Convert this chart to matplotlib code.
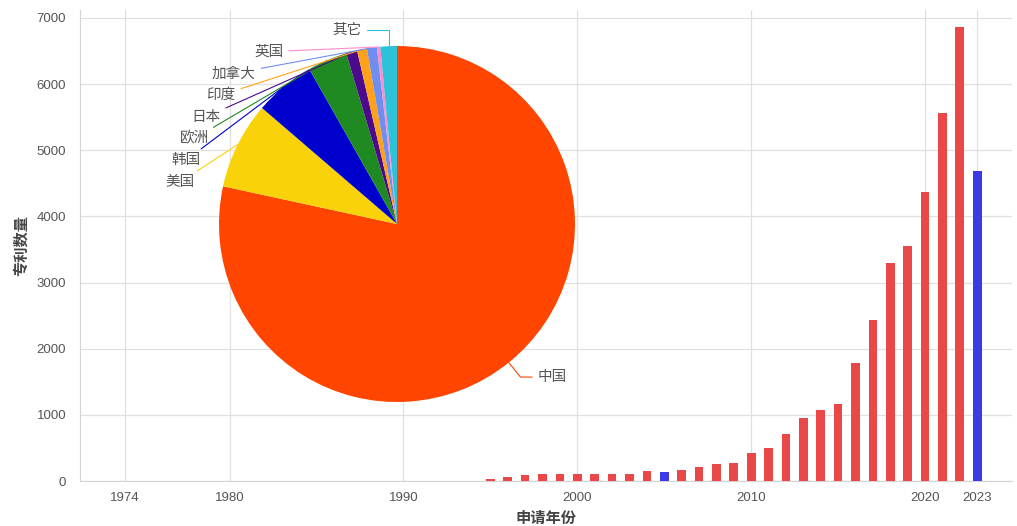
import numpy as np
import matplotlib.pyplot as plt

# bar data: patent filings per application year
years = list(range(1995, 2024))
counts = [30, 60, 90, 110, 110, 110, 110, 110, 110, 150,
          135, 170, 210, 250, 270, 430, 500, 710, 950, 1070,
          1160, 1790, 2440, 3300, 3560, 4370, 5560, 6860, 4690]
tick_years = [1974, 1980, 1990, 2000, 2010, 2020, 2023]
highlight_years = [2005, 2023]

# pie data: share by country/region (%)
countries = ['中国', '美国', '韩国', '欧洲', '日本', '印度', '加拿大', '英国', '其它']
shares = [78.4, 7.9, 5.5, 3.6, 1.0, 0.9, 0.9, 0.3, 1.5]
pie_colors = ['#ff4500', '#f9d20a', '#0000cd', '#1f8a22', '#4b0a8c',
              '#ffa21a', '#6f8ff0', '#ff8ccf', '#2cc3d8']

plt.rcParams['font.family'] = ['Noto Sans CJK SC', 'DejaVu Sans']

W, H = 1017, 526
fig = plt.figure(figsize=(W / 100, H / 100), dpi=100)
ax = fig.add_axes([80 / W, 45 / H, 932 / W, 471 / H])

bar_colors = ['#3a3ae6' if y in highlight_years else '#ea4848' for y in years]
ax.bar(years, counts, width=0.5, color=bar_colors, zorder=3)
ax.set_xlim(1971.4, 2025.0)
ax.set_ylim(0, 7120)
ax.set_yticks(range(0, 7001, 1000))
ax.set_xticks(tick_years)
ax.grid(color='#e0e0e0', lw=0.9, zorder=0)
ax.set_axisbelow(True)
for s in ['top', 'right']:
    ax.spines[s].set_visible(False)
for s in ['left', 'bottom']:
    ax.spines[s].set_color('#d4d4d4')
ax.tick_params(length=0, colors='#555555')
ax.tick_params(axis='y', pad=10)
ax.tick_params(axis='x', pad=8)
for lab in ax.get_xticklabels() + ax.get_yticklabels():
    lab.set_fontfamily('Liberation Sans')
    lab.set_fontsize(9.5)
ax.set_ylabel('专利数量', fontsize=11, fontweight='bold', color='#444444')
ax.yaxis.set_label_coords(-0.055, 0.5)
ax.set_xlabel('申请年份', fontsize=11, fontweight='bold', color='#444444')
ax.xaxis.set_label_coords(0.5, -0.062)

# pie inset
cx, cy, r = 397, 224, 178
pax = fig.add_axes([(cx - r) / W, (H - cy - r) / H, 2 * r / W, 2 * r / H])
pax.set_facecolor('none')
wedges, _ = pax.pie(shares, colors=pie_colors, startangle=90, counterclock=False,
                    radius=1, wedgeprops=dict(linewidth=0))
pax.set_xlim(-1, 1)
pax.set_ylim(-1, 1)
pax.axis('off')

n_left = len(countries) - 1
for i, w in enumerate(wedges):
    mid = np.deg2rad((w.theta1 + w.theta2) / 2)
    px, py = np.cos(mid), np.sin(mid)
    c = pie_colors[i]
    if i == 0:
        pax.annotate(countries[i], xy=(px, py), xytext=(0.79, -0.86),
                     ha='left', va='center', fontsize=10.5, color='#555555',
                     annotation_clip=False,
                     arrowprops=dict(arrowstyle='-', color=c, lw=0.8, shrinkA=2, shrinkB=0,
                                     connectionstyle='angle,angleA=0,angleB=-51,rad=0'))
        continue
    ly = 0.236 + 0.122 * (i - 1)
    if i == n_left:
        lx = px - 0.15
        cs = 'angle,angleA=0,angleB=90,rad=0'
    else:
        lx = -np.sqrt(1.16 ** 2 - ly ** 2)
        cs = 'arc3,rad=0'
    pax.annotate(countries[i], xy=(px, py), xytext=(lx, ly),
                 ha='right', va='center', fontsize=10.5, color='#555555',
                 annotation_clip=False,
                 arrowprops=dict(arrowstyle='-', color=c, lw=0.8, shrinkA=2, shrinkB=0,
                                 connectionstyle=cs))

fig.savefig('out.png', dpi=100)
